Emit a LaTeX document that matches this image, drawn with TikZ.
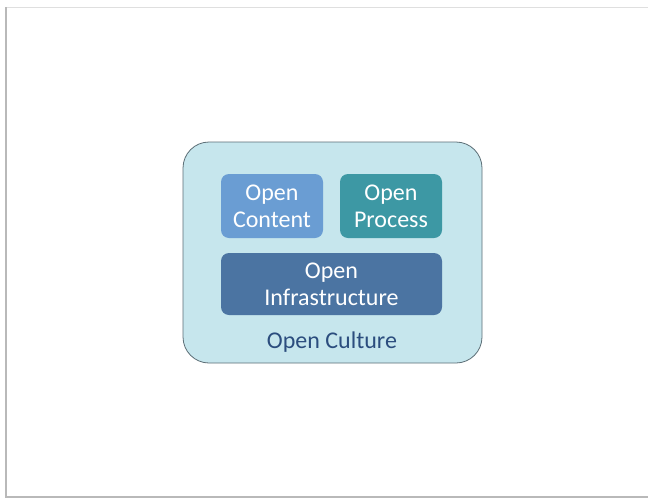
\documentclass[tikz,border=0pt]{standalone}
\usepackage{fontspec}
\setmainfont{Carlito}
\definecolor{culturebg}{HTML}{C6E6ED}
\definecolor{cultureline}{HTML}{5C6E76}
\definecolor{culturetext}{HTML}{2B4D7E}
\definecolor{contentfill}{HTML}{6A9DD3}
\definecolor{processfill}{HTML}{3D98A4}
\definecolor{infrafill}{HTML}{4B74A2}
\begin{document}
\begin{tikzpicture}[x=1pt, y=-1pt]
        \useasboundingbox (0,0) rectangle (648,498);
        % Slide
        \fill[white] (0,0) rectangle (648,498);
        \draw[gray!25, line width=1pt] (6.5,7) -- (648,7);
        \draw[gray!55, line width=2pt] (6,7) -- (6,496.5) -- (648,496.5);

        % Nodes
        \node (culture) [rectangle, rounded corners=26pt, draw=cultureline, line width=0.8pt, fill=culturebg, minimum width=299pt, minimum height=221pt] at (332.5, 252.5) {};
        \node (content) [rectangle, rounded corners=8pt, fill=contentfill, text=white, align=center, font=\fontsize{24}{27}\selectfont, minimum width=102pt, minimum height=64pt] at (272, 206) {Open\\Content};
        \node (process) [rectangle, rounded corners=8pt, fill=processfill, text=white, align=center, font=\fontsize{24}{27}\selectfont, minimum width=102pt, minimum height=64pt] at (391, 206) {Open\\Process};
        \node (infra) [rectangle, rounded corners=8pt, fill=infrafill, text=white, align=center, font=\fontsize{24}{27}\selectfont, minimum width=221pt, minimum height=62pt] at (331.5, 284) {Open\\Infrastructure};
        \node (label) [text=culturetext, font=\fontsize{24}{27}\selectfont] at (332, 342) {Open Culture};
    \end{tikzpicture}
\end{document}
